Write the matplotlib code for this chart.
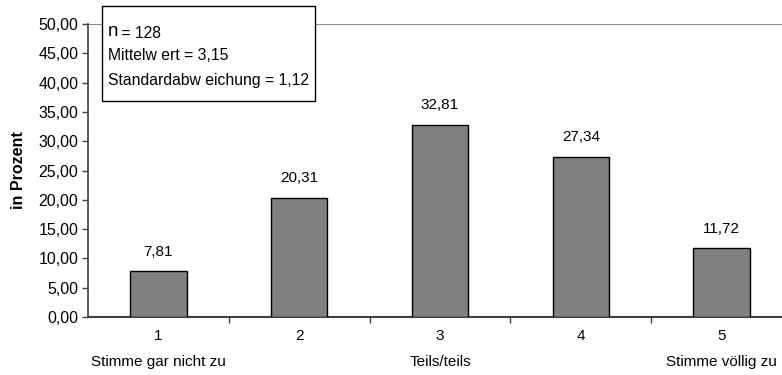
import matplotlib.pyplot as plt
from matplotlib.patches import Rectangle

plt.rcParams["font.family"] = ["Liberation Sans", "DejaVu Sans"]
plt.rcParams["font.size"] = 11

kategorien = [1, 2, 3, 4, 5]
prozent = [7.81, 20.31, 32.81, 27.34, 11.72]
beschriftung = ["Stimme gar nicht zu", "", "Teils/teils", "", "Stimme völlig zu"]
y_ticks = [0, 5, 10, 15, 20, 25, 30, 35, 40, 45, 50]

fig = plt.figure(figsize=(7.82, 3.75), dpi=100)
ax = fig.add_axes([88 / 782, 1 - 317 / 375, 704 / 782, 293 / 375])

ax.bar(kategorien, prozent, width=0.4, color="#808080", edgecolor="black", linewidth=1.0, zorder=3)

for x, wert in zip(kategorien, prozent):
    ax.annotate(f"{wert:.2f}".replace(".", ","), (x, wert), xytext=(0, 9),
                textcoords="offset points", ha="center", va="bottom", fontsize=11)

ax.set_xlim(0.5, 5.5)
ax.set_ylim(0, 50)
ax.set_yticks(y_ticks)
ax.set_yticklabels([f"{v:.2f}".replace(".", ",") for v in y_ticks], fontsize=11.5)

# Striche zwischen den Kategorien, Zahlen darunter
ax.set_xticks([1.5, 2.5, 3.5, 4.5])
ax.set_xticklabels([])
ax.tick_params(axis="x", length=4, width=1, color="#404040", direction="out")
ax.tick_params(axis="y", length=4, width=1, color="#404040", direction="out", pad=3)
for x, text in zip(kategorien, beschriftung):
    ax.text(x, -0.065, str(x), transform=ax.get_xaxis_transform(), ha="center", va="center", fontsize=11)
    ax.text(x, -0.155, text, transform=ax.get_xaxis_transform(), ha="center", va="center", fontsize=11)

ax.axhline(50, color="#888888", linewidth=1.5, zorder=1)

for seite in ["top", "right"]:
    ax.spines[seite].set_visible(False)
ax.spines["left"].set_color("#404040")
ax.spines["bottom"].set_color("#404040")
ax.spines["left"].set_linewidth(1.2)
ax.spines["bottom"].set_linewidth(1.5)

ax.set_ylabel("in Prozent", fontweight="bold", fontsize=11.5, labelpad=9)

# Kennwerte-Kasten oben links
box = Rectangle((102 / 782, 1 - 101 / 375), 213 / 782, 95 / 375, transform=fig.transFigure,
                facecolor="white", edgecolor="black", linewidth=1.0, zorder=5)
fig.patches.append(box)
fig.text(108 / 782, 1 - 31 / 375, "n", fontsize=13.5, va="center", ha="left", zorder=6)
fig.text(117 / 782, 1 - 33 / 375, " = 128", fontsize=11.3, va="center", ha="left", zorder=6)
fig.text(108 / 782, 1 - 56 / 375, "Mittelw ert = 3,15", fontsize=11.3, va="center", ha="left", zorder=6)
fig.text(108 / 782, 1 - 80 / 375, "Standardabw eichung = 1,12", fontsize=11.3, va="center", ha="left", zorder=6)

fig.savefig("out.png", dpi=100)
